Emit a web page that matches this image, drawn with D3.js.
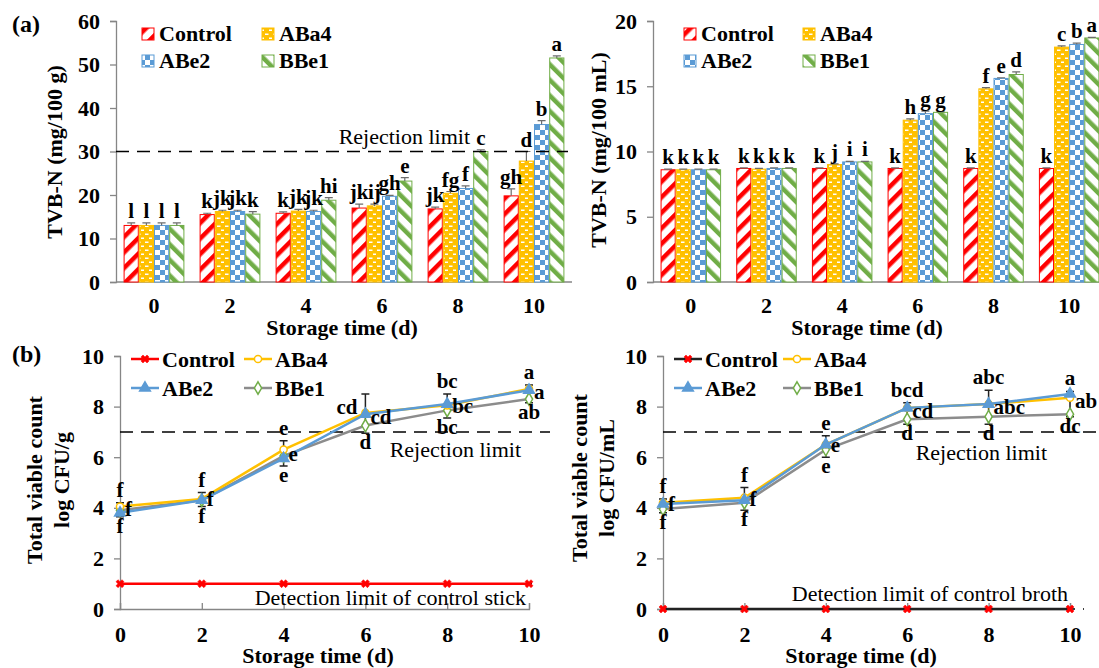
<!DOCTYPE html>
<html>
<head>
<meta charset="utf-8">
<script src="https://cdn.jsdelivr.net/npm/d3@7"></script>
<style>
  body { margin: 0; background: #fff; overflow: hidden; }
</style>
</head>
<body>
<script>
// ---- data ----
var days = [0, 2, 4, 6, 8, 10];
var series = ["Control", "ABa4", "ABe2", "BBe1"];

// (a) left: TVB-N stick (mg/100 g)
var stickControl = [13.0, 15.5, 15.8, 17.0, 16.8, 19.8];
var stickABa4 = [13.0, 16.2, 16.3, 17.5, 20.4, 27.8];
var stickABe2 = [13.0, 16.2, 16.2, 19.7, 21.5, 36.2];
var stickBBe1 = [13.0, 15.6, 18.8, 23.2, 30.0, 51.5];
var stickErr = [
  [0.6, 0.3, 0.3, 0.9, 0.4, 1.6],
  [0.6, 0.3, 0.4, 0.4, 0.4, 2.2],
  [0.6, 0.3, 0.3, 0.2, 0.6, 0.9],
  [0.6, 0.6, 0.6, 0.8, 0.4, 0.5]
];
var stickLetters = [
  ["l", "k", "k", "jk", "jk", "gh"],
  ["l", "jk", "jk", "ij", "fg", "d"],
  ["l", "jk", "jk", "gh", "f", "b"],
  ["l", "k", "hi", "e", "c", "a"]
];

// (a) right: TVB-N broth (mg/100 mL)
var brothControl = [8.6, 8.7, 8.7, 8.7, 8.7, 8.7];
var brothABa4 = [8.6, 8.65, 9.0, 12.4, 14.8, 18.0];
var brothABe2 = [8.6, 8.7, 9.2, 12.9, 15.6, 18.2];
var brothBBe1 = [8.6, 8.7, 9.2, 13.0, 15.9, 18.7];
var brothErr = [
  [0.05, 0.05, 0.05, 0.05, 0.05, 0.05],
  [0.05, 0.05, 0.05, 0.1, 0.1, 0.1],
  [0.05, 0.05, 0.05, 0.2, 0.05, 0.1],
  [0.05, 0.05, 0.05, 0.05, 0.2, 0.05]
];
var brothLetters = [
  ["k", "k", "k", "k", "k", "k"],
  ["k", "k", "j", "h", "f", "c"],
  ["k", "k", "i", "g", "e", "b"],
  ["k", "k", "i", "g", "d", "a"]
];

// (b) left: TVC stick (log CFU/g)
var tvcStickControl = [1, 1, 1, 1, 1, 1];
var tvcStickABa4 = [4.05, 4.35, 6.3, 7.75, 8.05, 8.7];
var tvcStickABe2 = [3.8, 4.3, 5.95, 7.7, 8.1, 8.65];
var tvcStickBBe1 = [3.9, 4.3, 6.05, 7.25, 7.85, 8.3];
var tvcStickErr = [0.15, 0.25, 0.35, 0.75, 0.4, 0.15];
var tvcStickTop = ["f", "f", "e", "cd", "bc", "a"];
var tvcStickMid = ["f", "f", "e", "cd", "bc", "a"];
var tvcStickLow = ["f", "f", "e", "d", "bc", "ab"];

// (b) right: TVC broth (log CFU/mL)
var tvcBrothControl = [0, 0, 0, 0, 0, 0];
var tvcBrothABa4 = [4.2, 4.4, 6.5, 7.95, 8.1, 8.35];
var tvcBrothABe2 = [4.15, 4.3, 6.5, 7.95, 8.1, 8.5];
var tvcBrothBBe1 = [3.95, 4.2, 6.3, 7.5, 7.6, 7.7];
var tvcBrothErr = [0.15, 0.4, 0.35, 0.2, 0.55, 0.1];
var tvcBrothTop = ["f", "f", "e", "bcd", "abc", "a"];
var tvcBrothMid = ["f", "f", "e", "cd", "abc", "ab"];
var tvcBrothLow = ["f", "f", "e", "d", "d", "dc"];

var yTicksA1 = [0, 10, 20, 30, 40, 50, 60];
var yTicksA2 = [0, 5, 10, 15, 20];
var yTicksB = [0, 2, 4, 6, 8, 10];

var colors = { Control: "#FF0000", ABa4: "#FFC000", ABe2: "#5B9BD5", BBe1: "#70AD47" };
var serif = "Liberation Serif";

var svg = d3.select("body").append("svg")
  .attr("width", 1099).attr("height", 668)
  .attr("font-family", serif);

// ---- patterns ----
var defs = svg.append("defs");
function stripePattern(id, color, dir) {
  var p = defs.append("pattern").attr("id", id)
    .attr("patternUnits", "userSpaceOnUse")
    .attr("width", 11).attr("height", 11)
    .attr("patternTransform", "rotate(" + (dir > 0 ? 45 : -45) + ")");
  p.append("rect").attr("width", 11).attr("height", 11).attr("fill", "#fff");
  p.append("rect").attr("x", 0).attr("width", 4.5).attr("height", 11).attr("fill", color);
}
stripePattern("pControl", colors.Control, 1);
stripePattern("pBBe1", colors.BBe1, -1);
var pa = defs.append("pattern").attr("id", "pABa4")
  .attr("patternUnits", "userSpaceOnUse").attr("width", 8).attr("height", 8);
pa.append("rect").attr("width", 8).attr("height", 8).attr("fill", colors.ABa4);
pa.append("rect").attr("x", 1).attr("y", 1.5).attr("width", 3.5).attr("height", 1.5).attr("fill", "#fff");
pa.append("rect").attr("x", 5).attr("y", 5.5).attr("width", 3.5).attr("height", 1.5).attr("fill", "#fff");
var pb = defs.append("pattern").attr("id", "pABe2")
  .attr("patternUnits", "userSpaceOnUse").attr("width", 10).attr("height", 10);
pb.append("rect").attr("width", 10).attr("height", 10).attr("fill", "#fff");
pb.append("rect").attr("width", 5).attr("height", 5).attr("fill", colors.ABe2);
pb.append("rect").attr("x", 5).attr("y", 5).attr("width", 5).attr("height", 5).attr("fill", colors.ABe2);

var axisColor = "#868686";

function styleAxis(g) {
  g.attr("font-family", serif);
  g.select(".domain").attr("stroke", axisColor).attr("stroke-width", 1.3);
  g.selectAll(".tick line").attr("stroke", axisColor).attr("stroke-width", 1.3);
  g.selectAll(".tick text").attr("fill", "#000")
    .attr("font-family", serif)
    .attr("font-size", 22).attr("font-weight", "bold");
}

function dashLine(x1, x2, y) {
  svg.append("line").attr("x1", x1).attr("x2", x2).attr("y1", y).attr("y2", y)
    .attr("stroke", "#000").attr("stroke-width", 1.5).attr("stroke-dasharray", "13,8");
}

function label(x, y, txt, size, weight, anchor, rot) {
  var t = svg.append("text").attr("x", x).attr("y", y).text(txt)
    .attr("font-family", serif)
    .attr("font-size", size).attr("font-weight", weight || "normal")
    .attr("text-anchor", anchor || "start");
  if (rot) t.attr("transform", "rotate(" + rot + "," + x + "," + y + ")");
  return t;
}

// ---- bar panels ----
function barPanel(opt) {
  var x0 = d3.scaleBand().domain(days).range([opt.left, opt.right])
    .paddingInner(0.2).paddingOuter(0.1);
  var x1 = d3.scaleBand().domain(series).range([0, x0.bandwidth()]);
  var y = d3.scaleLinear().domain([0, opt.max]).range([282, 21]);

  var rows = [];
  opt.values.forEach(function (vals, si) {
    vals.forEach(function (v, di) {
      rows.push({ s: series[si], d: days[di], v: v, e: opt.err[si][di], l: opt.letters[si][di] });
    });
  });

  svg.append("g").attr("transform", "translate(" + opt.left + ",0)")
    .call(d3.axisLeft(y).tickValues(opt.ticks).tickSize(6).tickPadding(10))
    .call(styleAxis);
  var xa = svg.append("g").attr("transform", "translate(0,282)")
    .call(d3.axisBottom(x0).tickSize(0).tickPadding(15))
    .call(styleAxis);
  xa.select(".domain").attr("d", "M" + opt.left + ",0H" + opt.right);

  var g = svg.append("g");
  g.selectAll("rect.bar").data(rows).join("rect").attr("class", "bar")
    .attr("x", function (d) { return x0(d.d) + x1(d.s) + 0.5; })
    .attr("y", function (d) { return y(d.v); })
    .attr("width", x1.bandwidth() - 1)
    .attr("height", function (d) { return 282 - y(d.v); })
    .attr("fill", function (d) { return "url(#p" + d.s + ")"; })
    .attr("stroke", function (d) { return colors[d.s]; })
    .attr("stroke-width", 1);

  var cx = function (d) { return x0(d.d) + x1(d.s) + x1.bandwidth() / 2; };
  g.selectAll("path.err").data(rows).join("path").attr("class", "err")
    .attr("d", function (d) {
      var c = cx(d), t = y(d.v + d.e);
      return "M" + c + "," + y(d.v) + "V" + t + "M" + (c - 4) + "," + t + "H" + (c + 4);
    })
    .attr("stroke", "#6d6d6d").attr("stroke-width", 1.2).attr("fill", "none");

  g.selectAll("text.lt").data(rows).join("text").attr("class", "lt")
    .attr("x", cx)
    .attr("y", function (d) { return y(d.v + d.e) - 5; })
    .attr("text-anchor", "middle")
    .attr("font-family", serif)
    .attr("font-size", 21).attr("font-weight", "bold")
    .text(function (d) { return d.l; });

  // legend
  series.forEach(function (s, i) {
    var lx = opt.legX + (i % 2) * opt.legDx, ly = 28 + Math.floor(i / 2) * 27;
    svg.append("rect").attr("x", lx).attr("y", ly).attr("width", 12).attr("height", 12)
      .attr("fill", "url(#p" + s + ")").attr("stroke", colors[s]).attr("stroke-width", 1);
    label(lx + 17, ly + 13, s, 22, "bold");
  });
  return { x0: x0, y: y };
}

var pA1 = barPanel({
  left: 116, right: 572, max: 60, ticks: yTicksA1,
  values: [stickControl, stickABa4, stickABe2, stickBBe1],
  err: stickErr, letters: stickLetters, legX: 142, legDx: 120
});
dashLine(116, 568, pA1.y(30));
label(470, pA1.y(30) - 8, "Rejection limit", 22, "normal", "end");

var pA2 = barPanel({
  left: 653, right: 1107, max: 20, ticks: yTicksA2,
  values: [brothControl, brothABa4, brothABe2, brothBBe1],
  err: brothErr, letters: brothLetters, legX: 684, legDx: 119
});

label(12, 32, "(a)", 24, "bold");
label(62, 152, "TVB-N (mg/100 g)", 22, "bold", "middle", -90);
label(606, 150, "TVB-N (mg/100 mL)", 22, "bold", "middle", -90);
label(342, 335, "Storage time (d)", 22, "bold", "middle");
label(867, 335, "Storage time (d)", 22, "bold", "middle");

// ---- line panels ----
function markerPath(s) {
  if (s === "ABa4") return d3.symbol(d3.symbolCircle, 40)();
  if (s === "ABe2") return d3.symbol(d3.symbolTriangle, 50)();
  if (s === "BBe1") return d3.symbol(d3.symbolDiamond, 45)();
  return d3.symbol(d3.symbolCross, 40)();
}

function linePanel(opt) {
  var x = d3.scaleLinear().domain([0, 10]).range([opt.left, opt.right]);
  var y = d3.scaleLinear().domain([0, 10]).range([609, 356]);

  svg.append("g").attr("transform", "translate(" + opt.left + ",0)")
    .call(d3.axisLeft(y).tickValues(yTicksB).tickSize(6).tickPadding(10))
    .call(styleAxis);
  svg.append("g").attr("transform", "translate(0,609)")
    .call(d3.axisBottom(x).tickValues(days).tickSize(-6).tickPadding(11))
    .call(styleAxis)
    .call(function (g) { g.selectAll(".tick text").attr("dy", "1em"); });

  dashLine(opt.left, opt.rejEnd, y(7));
  dashLine(opt.left, opt.detEnd, y(opt.control[0]));

  var line = d3.line().x(function (d, i) { return x(days[i]); }).y(function (d) { return y(d); });
  var defsL = [
    { s: "Control", v: opt.control, lc: opt.controlLine, mc: "#FF0000" },
    { s: "BBe1", v: opt.bbe1, lc: "#8C8C8C", mc: colors.BBe1 },
    { s: "ABa4", v: opt.aba4, lc: colors.ABa4, mc: colors.ABa4 },
    { s: "ABe2", v: opt.abe2, lc: colors.ABe2, mc: colors.ABe2 }
  ];

  // error bars
  var errG = svg.append("g");
  days.forEach(function (d, i) {
    var hi = Math.max(opt.aba4[i], opt.abe2[i], opt.bbe1[i]);
    var lo = Math.min(opt.aba4[i], opt.abe2[i], opt.bbe1[i]);
    var eLo = Math.min(opt.err[i], 0.3);
    var c = x(d);
    errG.append("path")
      .attr("d", "M" + c + "," + y(lo - eLo) + "V" + y(hi + opt.err[i]) +
        "M" + (c - 4) + "," + y(hi + opt.err[i]) + "H" + (c + 4) +
        "M" + (c - 4) + "," + y(lo - eLo) + "H" + (c + 4))
      .attr("stroke", "#222").attr("stroke-width", 1.5).attr("fill", "none");
  });

  defsL.forEach(function (ds) {
    svg.append("path").datum(ds.v).attr("d", line)
      .attr("fill", "none").attr("stroke", ds.lc).attr("stroke-width", 2.5);
    svg.selectAll(null).data(ds.v).join("path")
      .attr("transform", function (d, i) {
        return "translate(" + x(days[i]) + "," + y(d) + ")" + (ds.s === "Control" ? " rotate(45)" : "");
      })
      .attr("d", markerPath(ds.s))
      .attr("fill", ds.s === "ABe2" ? ds.mc : (ds.s === "Control" ? ds.mc : "#fff"))
      .attr("stroke", ds.mc).attr("stroke-width", ds.s === "Control" ? 0.5 : 1.5);
  });

  // letters
  days.forEach(function (d, i) {
    var vals = [opt.aba4[i], opt.abe2[i], opt.bbe1[i]];
    var hi = d3.max(vals), lo = d3.min(vals), mid = d3.mean(vals);
    var eLo = Math.min(opt.err[i], 0.3);
    if (i === 3 && opt.shiftTop) {
      label(x(d) - 8, y(hi) + 1, opt.top[i], 21, "bold", "end");
    } else {
      label(x(d), y(hi + opt.err[i]) - 6, opt.top[i], 21, "bold", "middle");
    }
    label(x(d) + 5, y(mid) + 6, opt.mid[i], 21, "bold", "start");
    label(x(d), y(lo - eLo) + 16, opt.low[i], 21, "bold", "middle");
  });

  // legend
  var legItems = [
    { s: "Control", lc: opt.controlLine, mc: "#FF0000" },
    { s: "ABa4", lc: colors.ABa4, mc: colors.ABa4 },
    { s: "ABe2", lc: colors.ABe2, mc: colors.ABe2 },
    { s: "BBe1", lc: "#8C8C8C", mc: colors.BBe1 }
  ];
  legItems.forEach(function (it, i) {
    var lx = opt.legX + (i % 2) * opt.legDx, ly = 359 + Math.floor(i / 2) * 29;
    svg.append("line").attr("x1", lx).attr("x2", lx + 28).attr("y1", ly).attr("y2", ly)
      .attr("stroke", it.lc).attr("stroke-width", 2.5);
    svg.append("path").attr("transform", "translate(" + (lx + 14) + "," + ly + ")" + (it.s === "Control" ? " rotate(45)" : ""))
      .attr("d", markerPath(it.s))
      .attr("fill", it.s === "ABe2" || it.s === "Control" ? it.mc : "#fff")
      .attr("stroke", it.mc).attr("stroke-width", it.s === "Control" ? 0.5 : 1.5);
    label(lx + 31, ly + 8, it.s, 22, "bold");
  });
  return { x: x, y: y };
}

var pB1 = linePanel({
  left: 120, right: 529, rejEnd: 550, detEnd: 540,
  control: tvcStickControl, aba4: tvcStickABa4, abe2: tvcStickABe2, bbe1: tvcStickBBe1,
  err: tvcStickErr, top: tvcStickTop, mid: tvcStickMid, low: tvcStickLow,
  controlLine: "#FF0000", legX: 131, legDx: 113, shiftTop: true
});
label(521, pB1.y(7) + 25, "Rejection limit", 22, "normal", "end");
label(526, pB1.y(1) + 21, "Detection limit of control stick", 22, "normal", "end");

var pB2 = linePanel({
  left: 663, right: 1070, rejEnd: 1099, detEnd: 1084,
  control: tvcBrothControl, aba4: tvcBrothABa4, abe2: tvcBrothABe2, bbe1: tvcBrothBBe1,
  err: tvcBrothErr, top: tvcBrothTop, mid: tvcBrothMid, low: tvcBrothLow,
  controlLine: "#222", legX: 674, legDx: 109, shiftTop: false
});
label(1047, pB2.y(7) + 28, "Rejection limit", 22, "normal", "end");
label(1068, pB2.y(0) - 8, "Detection limit of control broth", 22, "normal", "end");

label(12, 362, "(b)", 24, "bold");
label(42, 480, "Total viable count", 22, "bold", "middle", -90);
label(69, 480, "log CFU/g", 22, "bold", "middle", -90);
label(587, 478, "Total viable count", 22, "bold", "middle", -90);
label(614, 478, "log CFU/mL", 22, "bold", "middle", -90);
label(318, 663, "Storage time (d)", 22, "bold", "middle");
label(861, 663, "Storage time (d)", 22, "bold", "middle");
</script>
</body>
</html>
